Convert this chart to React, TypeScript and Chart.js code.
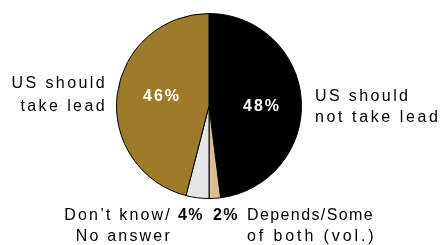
import React, { useEffect, useRef } from "react";
import { Chart, registerables } from "chart.js";

Chart.register(...registerables);

const categories = [
  "US should not take lead",
  "Depends/Some of both (vol.)",
  "Don't know/No answer",
  "US should take lead",
];
const values = [48, 2, 4, 46];
const colors = ["#000000", "#D7BE93", "#E6E6E6", "#9E7A2B"];

const labelPlugin = {
  id: "pieLabels",
  afterDatasetsDraw(chart: any) {
    const ctx = chart.ctx as CanvasRenderingContext2D;
    const meta = chart.getDatasetMeta(0);
    const arc = meta.data[0];
    const cx = arc.x;
    const cy = arc.y;
    const fam = "'Liberation Sans', Arial, sans-serif";
    const txt = (
      s: string,
      x: number,
      y: number,
      align: CanvasTextAlign,
      bold: boolean,
      color: string,
      spacing: string
    ) => {
      ctx.save();
      ctx.font = `${bold ? "bold " : ""}16px ${fam}`;
      (ctx as any).letterSpacing = spacing;
      ctx.fillStyle = color;
      ctx.textAlign = align;
      ctx.textBaseline = "alphabetic";
      ctx.fillText(s, x, y);
      ctx.restore();
    };
    // inside percentages
    txt(values[3] + "%", cx - 47, cy - 5, "center", true, "#ffffff", "2px");
    txt(values[0] + "%", cx + 53, cy + 5, "center", true, "#ffffff", "2px");
    // outside small percentages
    txt(values[2] + "%", cx - 18, cy + 114, "center", true, "#000000", "1.5px");
    txt(values[1] + "%", cx + 17, cy + 114, "center", true, "#000000", "1.5px");
    // category labels
    txt("US should", cx - 102, cy - 18, "right", false, "#000000", "2.4px");
    txt("take lead", cx - 102, cy + 5, "right", false, "#000000", "2.4px");
    txt("US should", cx + 106, cy - 5, "left", false, "#000000", "2.4px");
    txt("not take lead", cx + 106, cy + 16, "left", false, "#000000", "2.6px");
    txt("Don\u2019t know/", cx - 37, cy + 114, "right", false, "#000000", "2.2px");
    txt("No answer", cx - 37, cy + 135, "right", false, "#000000", "2.2px");
    txt("Depends/Some", cx + 38, cy + 114, "left", false, "#000000", "1.4px");
    txt("of both (vol.)", cx + 38, cy + 135, "left", false, "#000000", "2.9px");
  },
};

export default function App() {
  const ref = useRef<HTMLCanvasElement>(null);
  useEffect(() => {
    document.body.style.margin = "0";
    const chart = new Chart(ref.current!, {
      type: "pie",
      data: {
        labels: categories,
        datasets: [
          {
            data: values,
            backgroundColor: colors,
            borderColor: "#000000",
            borderWidth: 1,
          },
        ],
      },
      options: {
        animation: false,
        responsive: false,
        maintainAspectRatio: false,
        layout: { padding: { left: 116, right: 140, top: 12, bottom: 45 } },
        plugins: {
          legend: { display: false },
          tooltip: { enabled: false },
        },
      },
      plugins: [labelPlugin],
    });
    return () => chart.destroy();
  }, []);
  return (
    <div style={{ width: 442, height: 245, background: "#fff" }}>
      <canvas ref={ref} width={442} height={245} />
    </div>
  );
}
